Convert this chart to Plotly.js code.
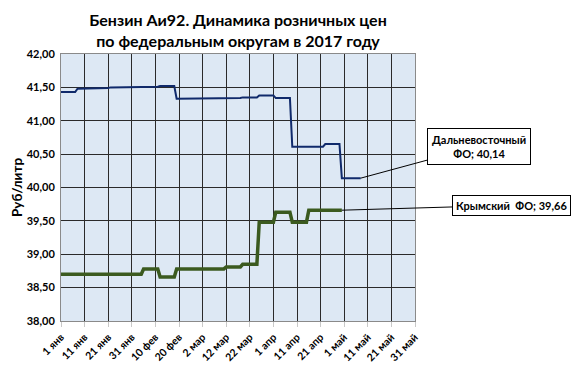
<!DOCTYPE html>
<html>
<head>
<meta charset="utf-8">
<script src="https://cdn.plot.ly/plotly-3.0.1.min.js"></script>
<style>html,body{margin:0;padding:0;background:#fff;}#chart{width:573px;height:373px;}</style>
</head>
<body>
<div id="chart"></div>
<script>
// Дальневосточный ФО: change points (level start / end dates)
const dalDates = ['2017-01-01','2017-01-07','2017-01-08','2017-01-14','2017-01-15','2017-01-21','2017-01-22','2017-02-04','2017-02-05','2017-02-11','2017-02-12','2017-02-18','2017-02-19','2017-03-11','2017-03-12','2017-03-18','2017-03-19','2017-03-25','2017-03-26','2017-04-01','2017-04-02','2017-04-08','2017-04-09','2017-04-22','2017-04-23','2017-04-29','2017-04-30','2017-05-08'];
const dalValues = [41.43,41.43,41.48,41.48,41.49,41.49,41.50,41.50,41.51,41.51,41.52,41.52,41.33,41.33,41.34,41.34,41.35,41.35,41.38,41.38,41.34,41.34,40.61,40.61,40.65,40.65,40.14,40.14];

// Крымский ФО
const krymDates = ['2017-01-01','2017-02-04','2017-02-05','2017-02-11','2017-02-12','2017-02-18','2017-02-19','2017-03-11','2017-03-12','2017-03-18','2017-03-19','2017-03-25','2017-03-26','2017-04-01','2017-04-02','2017-04-08','2017-04-09','2017-04-15','2017-04-16','2017-04-30'];
const krymValues = [38.70,38.70,38.78,38.78,38.66,38.66,38.78,38.78,38.81,38.81,38.85,38.85,39.48,39.48,39.63,39.63,39.48,39.48,39.66,39.66];

const tickDates = ['2017-01-01','2017-01-11','2017-01-21','2017-01-31','2017-02-10','2017-02-20','2017-03-02','2017-03-12','2017-03-22','2017-04-01','2017-04-11','2017-04-21','2017-05-01','2017-05-11','2017-05-21','2017-05-31'];
const tickLabels = ['1 янв','11 янв','21 янв','31 янв','10 фев','20 фев','2 мар','12 мар','22 мар','1 апр','11 апр','21 апр','1 май','11 май','21 май','31 май'];

const dalLabel = 'Дальневосточный<br>ФО; 40,14';
const krymLabel = 'Крымский&nbsp; ФО; 39,66';

const FONT = 'Lato, "Open Sans", "DejaVu Sans", sans-serif';

const traces = [
  {x: dalDates, y: dalValues, type: 'scatter', mode: 'lines', name: 'Дальневосточный ФО',
   line: {color: '#102a6b', width: 2}},
  {x: krymDates, y: krymValues, type: 'scatter', mode: 'lines', name: 'Крымский ФО',
   line: {color: '#3b5a1f', width: 3.5}}
];

const layout = {
  width: 573, height: 373,
  margin: {l: 61, r: 158, t: 54, b: 52},
  paper_bgcolor: '#ffffff',
  plot_bgcolor: '#dde8f4',
  showlegend: false,
  separators: ', ',
  font: {family: FONT, color: '#000'},
  title: {
    text: 'Бензин Аи92. Динамика розничных цен<br>по федеральным округам в 2017 году',
    font: {family: FONT, size: 16, weight: 'bold', color: '#000'},
    x: 0.5, xref: 'paper', xanchor: 'center',
    y: 0.93, yref: 'container', yanchor: 'middle'
  },
  xaxis: {
    type: 'date',
    range: [tickDates[0], tickDates[tickDates.length - 1]],
    tickmode: 'array', tickvals: tickDates, ticktext: tickLabels,
    tickangle: -45,
    tickfont: {family: FONT, size: 10.5, weight: 'bold', color: '#000'},
    ticks: 'outside', ticklen: 5, tickcolor: '#c8c8c8',
    showgrid: true, gridcolor: '#2a2a2a', gridwidth: 1,
    showline: true, linecolor: '#8a8a8a', linewidth: 1, mirror: true,
    zeroline: false, fixedrange: true
  },
  yaxis: {
    range: [38, 42],
    dtick: 0.5, tick0: 38,
    tickformat: '.2f',
    tickfont: {family: FONT, size: 11, weight: 'bold', color: '#000'},
    ticks: '',
    ticklabelstandoff: 3,
    showgrid: true, gridcolor: '#2a2a2a', gridwidth: 1,
    showline: true, linecolor: '#8a8a8a', linewidth: 1, mirror: true,
    zeroline: false,
    title: {text: 'Руб/литр', font: {family: FONT, size: 13.5, weight: 'bold', color: '#000'}, standoff: 0},
    automargin: false,
    fixedrange: true
  },
  annotations: [
    {x: dalDates[dalDates.length - 1], y: dalValues[dalValues.length - 1], xref: 'x', yref: 'y',
     text: dalLabel, showarrow: true, arrowhead: 0, arrowwidth: 1, arrowcolor: '#000',
     ax: 118, ay: -32, align: 'center',
     font: {family: FONT, size: 11, weight: 'bold', color: '#000'},
     bgcolor: '#ffffff', bordercolor: '#000', borderwidth: 1, borderpad: 4},
    {x: krymDates[krymDates.length - 1], y: krymValues[krymValues.length - 1], xref: 'x', yref: 'y',
     text: krymLabel, showarrow: true, arrowhead: 0, arrowwidth: 1, arrowcolor: '#000',
     ax: 170, ay: -5, align: 'center',
     font: {family: FONT, size: 11, weight: 'bold', color: '#000'},
     bgcolor: '#ffffff', bordercolor: '#000', borderwidth: 1, borderpad: 3}
  ]
};

Plotly.newPlot('chart', traces, layout, {staticPlot: true, displayModeBar: false});
</script>
</body>
</html>
